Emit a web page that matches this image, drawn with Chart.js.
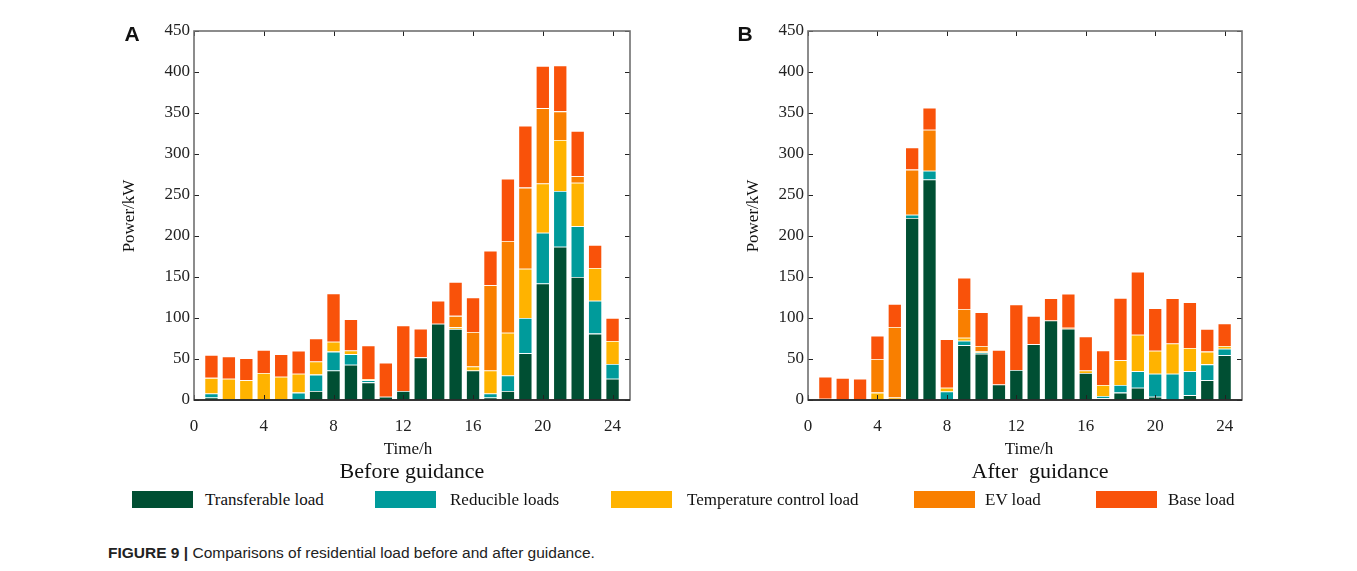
<!DOCTYPE html>
<html><head><meta charset="utf-8">
<script src="https://cdn.jsdelivr.net/npm/chart.js@4.4.1/dist/chart.umd.min.js"></script>
<style>
body{margin:0;background:#fff;width:1357px;height:571px;position:relative;overflow:hidden;font-family:'Liberation Serif','Times New Roman',serif;color:#111}
.abs{position:absolute;white-space:nowrap;line-height:1}
.c{transform:translate(-50%,-50%)}
.sw{position:absolute;width:61px;height:17px;top:491px}
.lt{position:absolute;top:499px;transform:translateY(-50%);font-size:17px;white-space:nowrap;line-height:1}
</style></head><body>
<canvas id="cA" width="560" height="440" style="position:absolute;left:100px;top:0"></canvas>
<canvas id="cB" width="558" height="440" style="position:absolute;left:714px;top:0"></canvas>

<div class="abs c" style="left:132px;top:34px;font:bold 21px 'Liberation Sans',Arial,sans-serif">A</div>
<div class="abs c" style="left:745px;top:34px;font:bold 21px 'Liberation Sans',Arial,sans-serif">B</div>
<div class="abs c" style="left:128px;top:216px;font-size:17px;transform:translate(-50%,-50%) rotate(-90deg)">Power/kW</div>
<div class="abs c" style="left:752px;top:216px;font-size:17px;transform:translate(-50%,-50%) rotate(-90deg)">Power/kW</div>
<div class="abs c" style="left:408px;top:448px;font-size:17px">Time/h</div>
<div class="abs c" style="left:1029px;top:448px;font-size:17px">Time/h</div>
<div class="abs c" style="left:412px;top:471px;font-size:22px">Before guidance</div>
<div class="abs c" style="left:1040px;top:471px;font-size:22px;white-space:pre">After  guidance</div>

<div id="legend"></div>

<div class="abs" style="left:108px;top:545px;font-size:15.5px;font-family:'Liberation Sans',Arial,sans-serif;color:#222"><b>FIGURE 9 |</b> Comparisons of residential load before and after guidance.</div>

<script>
// ---- data (hours 1..24) ----
const hours = [1,2,3,4,5,6,7,8,9,10,11,12,13,14,15,16,17,18,19,20,21,22,23,24];
const seriesNames = ['Transferable load','Reducible loads','Temperature control load','EV load','Base load'];
const seriesColors = ['#004f33','#009b9b','#ffb300','#f97f00','#f9520a'];
const xTicks = [0,4,8,12,16,20,24];
const yTicks = [0,50,100,150,200,250,300,350,400,450];

// Before guidance
const transA = [3,0,0,0,0,0,11,36,43,21.5,4,11,52,93,86.6,36,3,11,57,142,187,150,81,26];
const redA   = [5,1,0,0,1,9,20,23,13,2.5,0,0,0,0,0,0,5,19,43,62,68,62,40,18];
const tempA  = [19,25,24,33,27.5,23,16,12,4.5,1.5,0,0,0,0,2,5,28,52,60,60,62,53,40,28];
const evA    = [0,0,0,0,0,0,0,0,0,0,0,0,0,0,14,42,104,112,99,92,35,8,0,0];
const baseA  = [28,27,27,28,27.5,28,28,59,38,41,41.5,80,35,28,41.5,42,42,76,75.5,51.5,56,55,28,28];

// After guidance
const transB = [0,0,0,0,0,222,269,0,66.7,56.5,19,36.6,68,97,87,33,2,9,15,4,0,6,24,54.5];
const redB   = [1.5,0,0,0,0,4,10.5,10.5,5.7,1.5,0,0,0,0,0,0,3,9.4,20,28,32,29,19.5,8];
const tempB  = [0,0,0,9,3,0,0,4.5,3.6,1,0,0,0,0,0,3,13.4,30,44.6,28,37,28.4,15.5,3.3];
const evB    = [0,0,0,41,86,55,50,0,35,7,0,0,0,0,1,0,0,0,0,0,0,0,0,0];
const baseB  = [27,27,26,28.5,28,27,27,59,38,41,42,80,34.5,27,41.5,41.5,42,76,77,52,55,56,27.6,27.6];

// ---- legend ----
const swLeft = [132,375,611,914,1096];
const txLeft = [205,450,687,985,1168];
const lg = document.getElementById('legend');
seriesNames.forEach((n,i)=>{
  const s=document.createElement('div'); s.className='sw'; s.style.left=swLeft[i]+'px'; s.style.background=seriesColors[i]; lg.appendChild(s);
  const t=document.createElement('div'); t.className='lt'; t.style.left=txLeft[i]+'px'; t.textContent=n; lg.appendChild(t);
});

const framePlugin = {
  id:'frame',
  afterDraw(chart){
    const {ctx, chartArea:a} = chart; const x=chart.scales.x, y=chart.scales.y;
    ctx.save();
    ctx.lineWidth=1; ctx.strokeStyle='#222';
    ctx.beginPath();
    xTicks.forEach(v=>{const px=Math.round(x.getPixelForValue(v))+0.5;
      ctx.moveTo(px,a.bottom); ctx.lineTo(px,a.bottom-5); ctx.moveTo(px,a.top); ctx.lineTo(px,a.top+5);});
    yTicks.forEach(v=>{const py=Math.round(y.getPixelForValue(v))+0.5;
      ctx.moveTo(a.left,py); ctx.lineTo(a.left+5,py); ctx.moveTo(a.right,py); ctx.lineTo(a.right-5,py);});
    ctx.stroke();
    ctx.lineWidth=1.6; ctx.strokeStyle='#707070';
    ctx.strokeRect(a.left,a.top,a.right-a.left,a.bottom-a.top);
    ctx.strokeStyle='#1a1a1a'; ctx.beginPath(); ctx.moveTo(a.left,a.bottom); ctx.lineTo(a.right,a.bottom); ctx.stroke();
    ctx.restore();
  }
};

function makeChart(id, arrs){
  const font={family:"'Liberation Serif','Times New Roman',serif", size:17};
  return new Chart(document.getElementById(id), {
    type:'bar',
    data:{datasets: arrs.map((arr,i)=>({
      label:seriesNames[i],
      data:hours.map((h,j)=>({x:h,y:arr[j]})),
      backgroundColor:seriesColors[i],
      borderColor:'rgba(255,255,255,0.35)',
      borderWidth:0.8,
      categoryPercentage:0.8, barPercentage:1
    }))},
    options:{
      responsive:false, animation:false,
      layout:{padding:{left:0,right:30,top:31,bottom:0}},
      plugins:{legend:{display:false}, tooltip:{enabled:false}},
      scales:{
        x:{type:'linear',min:0,max:25,offset:false,stacked:true,
          grid:{display:false,drawTicks:false,offset:false},border:{display:false},
          afterBuildTicks:s=>{s.ticks=xTicks.map(v=>({value:v}));},
          afterFit:s=>{s.height=40;},
          ticks:{font,color:'#222',padding:16,autoSkip:false,maxRotation:0}},
        y:{min:0,max:450,stacked:true,
          grid:{display:false,drawTicks:false},border:{display:false},
          afterBuildTicks:s=>{s.ticks=yTicks.map(v=>({value:v}));},
          afterFit:s=>{s.width=94;},
          ticks:{font,color:'#222',padding:4}}
      }
    },
    plugins:[framePlugin]
  });
}
makeChart('cA',[transA,redA,tempA,evA,baseA]);
makeChart('cB',[transB,redB,tempB,evB,baseB]);
</script>
</body></html>
